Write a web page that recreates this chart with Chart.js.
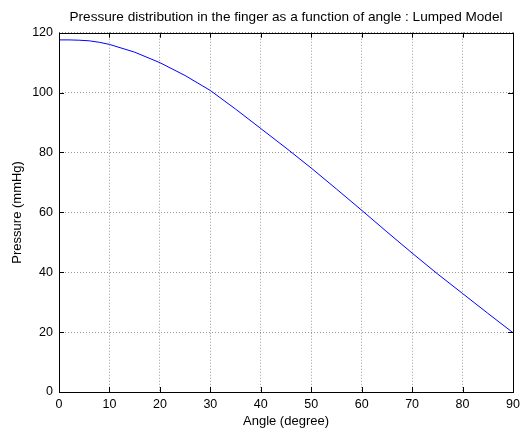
<!DOCTYPE html>
<html>
<head>
<meta charset="utf-8">
<title>Pressure distribution</title>
<script src="https://cdn.jsdelivr.net/npm/chart.js@4"></script>
<style>
    html, body { margin: 0; padding: 0; background: #fff; }
    #wrap { width: 527px; height: 431px; }
</style>
</head>
<body>
<div id="wrap"><canvas id="chart" width="527" height="431"></canvas></div>
<script>
// angle (degree) vs. pressure (mmHg), lumped model
const angles = [0, 2, 4, 6, 8, 10, 15, 20, 25, 30, 35, 40, 45, 50, 55, 60, 65, 70, 75, 80, 85, 90];
const pressure = [117.6, 117.6, 117.5, 117.3, 116.8, 116.1, 113.5, 110.0, 105.7, 100.7, 94.5, 88.0, 81.5, 74.8, 67.8, 60.7, 53.5, 46.4, 39.5, 32.9, 26.3, 19.8];
const xTicks = [0, 10, 20, 30, 40, 50, 60, 70, 80, 90];
const yTicks = [0, 20, 40, 60, 80, 100, 120];

const FONT = 'Liberation Sans, Arial, Helvetica, sans-serif';

// box around the axes plus small inward tick marks on all four sides
const axesBox = {
    id: 'axesBox',
    afterDraw(chart) {
        const { ctx, chartArea: a, scales } = chart;
        ctx.save();
        ctx.strokeStyle = '#000';
        ctx.lineWidth = 1;
        ctx.beginPath();
        xTicks.forEach(v => {
            const px = Math.round(scales.x.getPixelForValue(v)) + 0.5;
            ctx.moveTo(px, a.bottom); ctx.lineTo(px, a.bottom - 5);
            ctx.moveTo(px, a.top); ctx.lineTo(px, a.top + 5);
        });
        yTicks.forEach(v => {
            const py = Math.round(scales.y.getPixelForValue(v)) + 0.5;
            ctx.moveTo(a.left, py); ctx.lineTo(a.left + 5, py);
            ctx.moveTo(a.right, py); ctx.lineTo(a.right - 5, py);
        });
        ctx.stroke();
        ctx.strokeRect(Math.round(a.left) + 0.5, Math.round(a.top) + 0.5,
            Math.round(a.right - a.left), Math.round(a.bottom - a.top));
        ctx.restore();
    }
};

const ctx = document.getElementById('chart').getContext('2d');
new Chart(ctx, {
    type: 'line',
    data: {
        datasets: [{
            data: angles.map((a, i) => ({ x: a, y: pressure[i] })),
            borderColor: '#0000ff',
            borderWidth: 1,
            pointRadius: 0,
            tension: 0,
            fill: false
        }]
    },
    options: {
        responsive: false,
        animation: false,
        layout: { padding: { left: 0, right: 14, top: 0, bottom: 0 } },
        plugins: {
            legend: { display: false },
            tooltip: { enabled: false },
            title: {
                display: true,
                fullSize: false,
                text: 'Pressure distribution in the finger as a function of angle : Lumped Model',
                color: '#000',
                font: { family: FONT, size: 13.6, weight: 'normal' },
                padding: { top: 9, bottom: 7.4 }
            }
        },
        scales: {
            x: {
                type: 'linear',
                min: 0,
                max: 90,
                afterFit: s => { s.height = 39; },
                afterBuildTicks: s => { s.ticks = xTicks.map(v => ({ value: v })); },
                ticks: { color: '#000', padding: 5, maxRotation: 0, font: { family: FONT, size: 12.5 } },
                grid: { color: 'rgba(0,0,0,0.4)', drawTicks: false },
                border: { display: false, dash: [1, 2] },
                title: { display: true, text: 'Angle (degree)', color: '#000', padding: { top: 0, bottom: 2 }, font: { family: FONT, size: 13 } }
            },
            y: {
                min: 0,
                max: 120,
                afterFit: s => { s.width = 59; },
                afterBuildTicks: s => { s.ticks = yTicks.map(v => ({ value: v })); },
                ticks: { color: '#000', padding: 6, font: { family: FONT, size: 12.5 } },
                grid: { color: 'rgba(0,0,0,0.4)', drawTicks: false },
                border: { display: false, dash: [1, 2] },
                title: { display: true, text: 'Pressure (mmHg)', color: '#000', padding: { top: 10, bottom: 0 }, font: { family: FONT, size: 13 } }
            }
        }
    },
    plugins: [axesBox]
});
</script>
</body>
</html>
